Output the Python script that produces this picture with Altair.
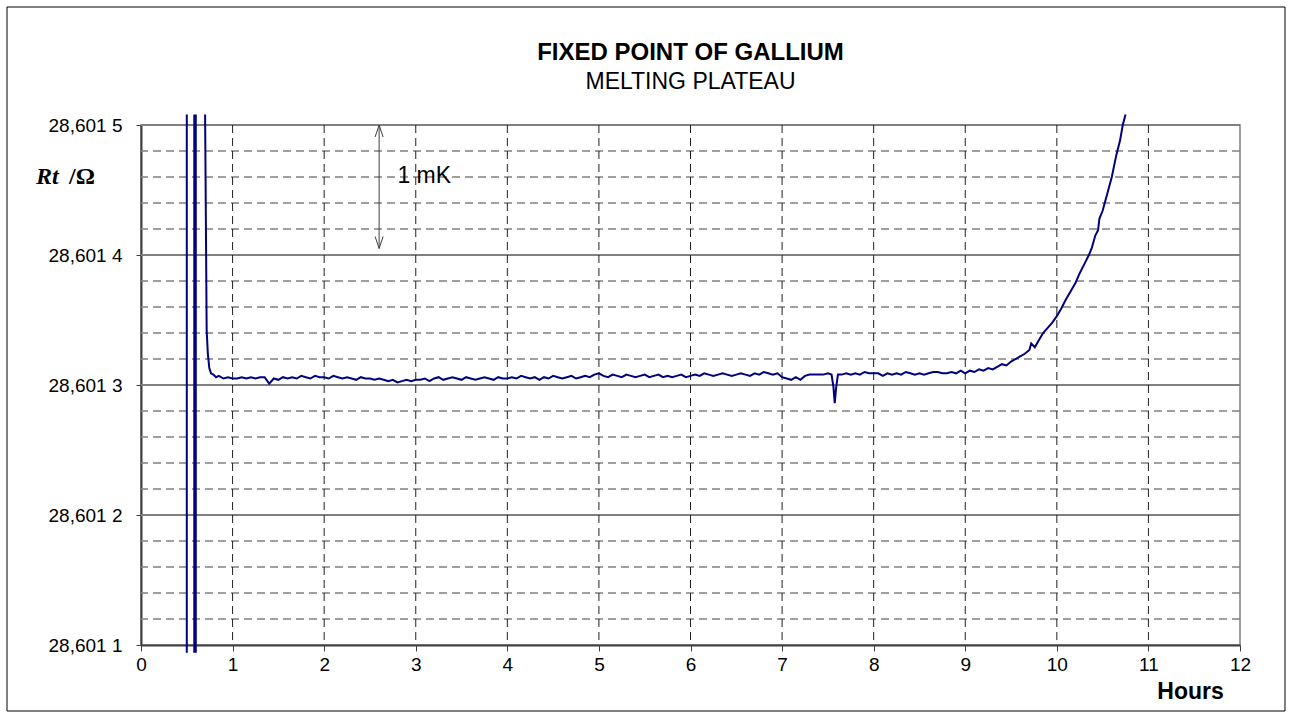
import altair as alt
import pandas as pd

# ---------------- data ----------------
R0 = 28.6013  # ohm, reference level; offsets below are in micro-ohm above R0

descent_hours = [0.700, 0.705, 0.710, 0.717, 0.730, 0.746, 0.764, 0.790, 0.820]
descent_offset = [208, 160, 110, 42, 24, 13, 9, 8, 6]

plateau_hours = [
    0.85, 0.90, 0.95, 1.00, 1.05, 1.10, 1.15, 1.20, 1.25, 1.30, 1.35, 1.40, 1.45, 1.50,
    1.55, 1.60, 1.65, 1.70, 1.75, 1.80, 1.85, 1.90, 1.95, 2.00, 2.05, 2.10, 2.15, 2.20,
    2.25, 2.30, 2.35, 2.40, 2.45, 2.50, 2.55, 2.60, 2.65, 2.70, 2.75, 2.80, 2.85, 2.90,
    2.95, 3.00, 3.05, 3.10, 3.15, 3.20, 3.25, 3.30, 3.35, 3.40, 3.45, 3.50, 3.55, 3.60,
    3.65, 3.70, 3.75, 3.80, 3.85, 3.90, 3.95, 4.00, 4.05, 4.10, 4.15, 4.20, 4.25, 4.30,
    4.35, 4.40, 4.45, 4.50, 4.55, 4.60, 4.65, 4.70, 4.75, 4.80, 4.85, 4.90, 4.95, 5.00,
    5.05, 5.10, 5.15, 5.20, 5.25, 5.30, 5.35, 5.40, 5.45, 5.50, 5.55, 5.60, 5.65, 5.70,
    5.75, 5.80, 5.85, 5.90, 5.95, 6.00, 6.05, 6.10, 6.15, 6.20, 6.25, 6.30, 6.35, 6.40,
    6.45, 6.50, 6.55, 6.60, 6.65, 6.70, 6.75, 6.80, 6.85, 6.90, 6.95, 7.00, 7.05, 7.10,
    7.15, 7.20, 7.25, 7.30, 7.35, 7.40, 7.45, 7.50, 7.54, 7.56, 7.575, 7.59, 7.61, 7.65,
    7.70, 7.75, 7.80, 7.85, 7.90, 7.95, 8.00, 8.05, 8.10, 8.15, 8.20, 8.25, 8.30, 8.35,
    8.40, 8.45, 8.50, 8.55, 8.60, 8.65, 8.70, 8.75, 8.80, 8.85, 8.90, 8.95, 9.00,
]
plateau_offset = [
    7, 5, 6, 5, 5, 6, 5, 6, 5, 6, 6, 1, 5, 4,
    6, 5, 6, 5, 7, 6, 5, 7, 6, 6, 5, 7, 6, 5,
    6, 5, 4, 6, 5, 5, 4, 5, 4, 3, 4, 2, 3, 4,
    3, 4, 4, 5, 3, 5, 6, 4, 5, 6, 5, 4, 6, 5,
    4, 5, 6, 5, 4, 6, 5, 5, 6, 5, 7, 6, 5, 6,
    4, 6, 5, 7, 6, 5, 6, 7, 5, 6, 7, 6, 8, 9,
    7, 6, 8, 7, 6, 8, 7, 6, 7, 8, 6, 7, 8, 6,
    7, 6, 7, 8, 6, 7, 8, 7, 9, 8, 7, 8, 9, 8,
    7, 8, 9, 8, 7, 9, 8, 10, 9, 8, 9, 6, 5, 4,
    6, 4, 7, 8, 8, 8, 8, 9, 8, -1, -14, -2, 8, 8,
    9, 8, 9, 8, 10, 9, 9, 9, 7, 9, 8, 9, 8, 10,
    9, 8, 9, 8, 9, 10, 10, 9, 9, 10, 9, 11, 9,
]

rise_hours = [
    9.05, 9.10, 9.15, 9.20, 9.25, 9.30, 9.35, 9.40, 9.45, 9.50, 9.55, 9.60, 9.65, 9.70,
    9.72, 9.76, 9.80, 9.85, 9.90, 9.95, 10.00, 10.05, 10.10, 10.15, 10.20, 10.25, 10.30,
    10.35, 10.38, 10.42, 10.45, 10.465, 10.50, 10.55, 10.60, 10.65, 10.69, 10.72, 10.75,
]
rise_offset = [
    11, 10, 12, 11, 13, 12, 14, 16, 15, 18, 20, 22, 24, 27,
    32, 29, 34, 40, 44, 48, 53, 59, 66, 72, 78, 86, 93,
    100, 105, 115, 119, 128, 134, 147, 160, 177, 188, 200, 208,
]

# off-scale excursions of the record before the plateau (vertical traces)
heating_thin_hours = [0.50]
heating_thick_hours = [0.59]
heating_low = [28.601094]
heating_high = [28.601508]

x_tick_values = [0, 1, 2, 3, 4, 5, 6, 7, 8, 9, 10, 11, 12]
x_grid_values = [1, 2, 3, 4, 5, 6, 7, 8, 9, 10, 11]
y_tick_values = [28.6011, 28.6012, 28.6013, 28.6014, 28.6015]
y_major_grid = [28.6012, 28.6013, 28.6014, 28.6015]
y_minor_grid = [28.60112, 28.60114, 28.60116, 28.60118,
                28.60122, 28.60124, 28.60126, 28.60128,
                28.60132, 28.60134, 28.60136, 28.60138,
                28.60142, 28.60144, 28.60146, 28.60148]

# "1 mK" annotation
mk_arrow_hours = [2.6]
mk_arrow_top = [28.6015]
mk_arrow_bottom = [28.601405]
mk_label_hours = [2.8]
mk_label_value = [28.601461]
mk_label_text = ["1 mK"]

title_text = "FIXED POINT OF GALLIUM"
subtitle_text = "MELTING PLATEAU"

# ---------------- build tables ----------------
hours = descent_hours + plateau_hours + rise_hours
offsets = descent_offset + plateau_offset + rise_offset
df = pd.DataFrame({"h": hours, "rt": [R0 + o * 1e-6 for o in offsets]})

xs = alt.Scale(domain=[0, 12], nice=False, zero=False)
ys = alt.Scale(domain=[28.6011, 28.6015], nice=False, zero=False)

FONT = "Liberation Sans"
NAVY = "#000080"

xaxis = alt.Axis(
    values=x_tick_values, grid=False, labelFlush=False, labelFont=FONT, labelFontSize=19,
    labelColor="black", labelPadding=4, tickSize=6, tickColor="#404040", domainColor="#404040",
    domainWidth=2, title="Hours", titleFont=FONT, titleFontSize=23, titleFontWeight="bold",
    titleColor="black", titleX=1049, titleY=46, titleAlign="center", titleBaseline="middle",
)
yaxis = alt.Axis(
    values=y_tick_values, grid=False, labelFlush=False, labelFont=FONT, labelFontSize=19,
    labelColor="black", labelPadding=14, tickSize=5, tickColor="#404040", domainColor="#404040",
    domainWidth=2, title=None,
    labelExpr="'28,601 ' + format(round((datum.value - 28.601) * 10000), 'd')",
)


def X(f):
    return alt.X(f, scale=xs, axis=xaxis)


def Y(f):
    return alt.Y(f, scale=ys, axis=yaxis)


minor = alt.Chart(pd.DataFrame({"v": y_minor_grid})).mark_rule(
    color="#808080", strokeWidth=1.3, strokeDash=[8, 5]
).encode(y=Y("v:Q"))

major = alt.Chart(pd.DataFrame({"v": y_major_grid})).mark_rule(
    color="#808080", strokeWidth=2
).encode(y=Y("v:Q"))

vgrid = alt.Chart(pd.DataFrame({"v": x_grid_values})).mark_rule(
    color="#202020", strokeWidth=1, strokeDash=[8, 5]
).encode(x=X("v:Q"))

heat_thin = alt.Chart(pd.DataFrame({"h": heating_thin_hours, "lo": heating_low, "hi": heating_high})).mark_rule(
    color=NAVY, strokeWidth=2, clip=False
).encode(x=X("h:Q"), y=Y("lo:Q"), y2="hi:Q")

heat_thick = alt.Chart(pd.DataFrame({"h": heating_thick_hours, "lo": heating_low, "hi": heating_high})).mark_rule(
    color=NAVY, strokeWidth=3.5, clip=False
).encode(x=X("h:Q"), y=Y("lo:Q"), y2="hi:Q")

line = alt.Chart(df).mark_line(color=NAVY, strokeWidth=2, clip=False).encode(
    x=X("h:Q"), y=Y("rt:Q")
)

arrow_df = pd.DataFrame({"h": mk_arrow_hours, "top": mk_arrow_top, "bot": mk_arrow_bottom})
arrow = alt.Chart(arrow_df).mark_rule(color="#404040", strokeWidth=1).encode(
    x=X("h:Q"), y=Y("top:Q"), y2="bot:Q"
)
head_up = alt.Chart(arrow_df).mark_point(
    shape="M -0.4 1.2 L 0 0 L 0.4 1.2", size=400, filled=False, color="#404040", strokeWidth=1, opacity=1
).encode(x=X("h:Q"), y=Y("top:Q"))
head_down = alt.Chart(arrow_df).mark_point(
    shape="M -0.4 -1.2 L 0 0 L 0.4 -1.2", size=400, filled=False, color="#404040", strokeWidth=1, opacity=1
).encode(x=X("h:Q"), y=Y("bot:Q"))

mk_text = alt.Chart(pd.DataFrame({"h": mk_label_hours, "v": mk_label_value, "t": mk_label_text})).mark_text(
    align="left", baseline="middle", font=FONT, fontSize=23, color="black"
).encode(x=X("h:Q"), y=Y("v:Q"), text="t:N")

one = pd.DataFrame({"a": [0]})
title_mark = alt.Chart(one).mark_text(
    text=title_text, align="center", baseline="middle", font=FONT, fontSize=24,
    fontWeight="bold", color="black"
).encode(x=alt.value(549.5), y=alt.value(-72))
subtitle_mark = alt.Chart(one).mark_text(
    text=subtitle_text, align="center", baseline="middle", font=FONT, fontSize=23, color="black"
).encode(x=alt.value(549.5), y=alt.value(-43))

ytitle_rt = alt.Chart(one).mark_text(
    text="Rt", align="left", baseline="middle", font="Liberation Serif", fontSize=24,
    fontStyle="italic", fontWeight="bold", color="black"
).encode(x=alt.value(-105), y=alt.value(52))
ytitle_unit = alt.Chart(one).mark_text(
    text="/Ω", align="left", baseline="middle", font="Liberation Serif", fontSize=24,
    fontWeight="bold", color="black"
).encode(x=alt.value(-72), y=alt.value(52))

frame = alt.Chart(one).mark_rect(fillOpacity=0, stroke="black", strokeWidth=1).encode(
    x=alt.value(-134), x2=alt.value(1144), y=alt.value(-118), y2=alt.value(586)
)

chart = alt.layer(
    minor, major, vgrid, heat_thin, heat_thick, line, arrow, head_up, head_down, mk_text,
    title_mark, subtitle_mark, ytitle_rt, ytitle_unit, frame,
).properties(
    width=1099, height=520,
    autosize=alt.AutoSizeParams(type="none"),
    padding={"left": 141, "top": 125, "right": 51, "bottom": 75},
    background="white",
).configure_view(stroke="#808080", strokeWidth=1.5)

chart.save("out.html", embed_options={"renderer": "svg", "actions": False})
